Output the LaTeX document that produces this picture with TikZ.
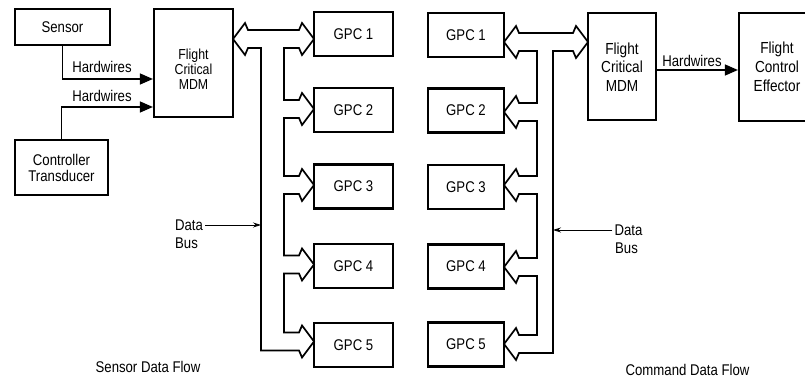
\documentclass[tikz,border=0pt]{standalone}
\usepackage{fontspec}
\setmainfont[FakeStretch=0.85]{Liberation Sans}
\usetikzlibrary{arrows.meta}
\newcommand\hdR[2]{-- (#1-15,#2-9) -- (#1-12,#2-16) -- (#1,#2) -- (#1-12,#2+16) -- (#1-15,#2+9)}
\newcommand\hdL[2]{-- (#1+15,#2-9) -- (#1+12,#2-16) -- (#1,#2) -- (#1+12,#2+16) -- (#1+15,#2+9)}
\begin{document}
\begin{tikzpicture}[x=1pt,y=-1pt,
  box/.style={draw,line width=2.2pt,inner sep=0pt,align=center},
  gpcl/.style={box,minimum width=79pt,minimum height=44pt,font=\fontsize{15.5}{16}\selectfont},
  gpcr/.style={box,minimum width=76pt,minimum height=44pt,font=\fontsize{15.5}{16}\selectfont},
  bus/.style={line width=1.7pt,line join=miter},
  hw/.style={line width=1.4pt,-{Triangle[length=13pt,width=11pt]}},
  ptr/.style={line width=0.8pt,-{Stealth[length=8pt,width=5pt]}},
  txt/.style={inner sep=2pt,font=\fontsize{15.5}{16}\selectfont},
  txtsm/.style={inner sep=0pt,align=center,font=\fontsize{14.5}{15}\selectfont},
  txtbig/.style={inner sep=0pt,align=center,font=\fontsize{16}{18.5}\selectfont}]
\fill[white] (0,0) rectangle (805,379);
\clip (0,0) rectangle (805,379);

% left side boxes
\node[box,minimum width=95pt,minimum height=36pt,font=\fontsize{15.5}{16}\selectfont] (sensor) at (62.5,27) {Sensor};
\node[box,minimum width=93pt,minimum height=55pt,font=\fontsize{15.5}{16}\selectfont] (ctrl) at (61.5,167.5) {Controller\\Transducer};
\node[box,minimum width=79pt,minimum height=108pt] (mdmL) at (193.5,63) {};
\node[txtsm] (mdmLt) at (193.5,69) {Flight\\Critical\\MDM};

\node[gpcl] (gL1) at (353.5,34) {GPC 1};
\node[gpcl] (gL2) at (353.5,110) {GPC 2};
\node[gpcl] (gL3) at (353.5,186.5) {GPC 3};
\node[gpcl] (gL4) at (353.5,266) {GPC 4};
\node[gpcl] (gL5) at (353.5,345) {GPC 5};

% right side boxes
\node[gpcr] (gR1) at (466,35) {GPC 1};
\node[gpcr] (gR2) at (466,110.5) {GPC 2};
\node[gpcr] (gR3) at (466,187) {GPC 3};
\node[gpcr] (gR4) at (466,266.5) {GPC 4};
\node[gpcr] (gR5) at (466,344.5) {GPC 5};

\node[box,minimum width=68pt,minimum height=107pt] (mdmR) at (622,66.5) {};
\node[txtbig] (mdmRt) at (622,67) {Flight\\Critical\\MDM};
\node[box,minimum width=76pt,minimum height=108pt] (eff) at (777,67) {};
\node[txtbig,font=\fontsize{16}{19}\selectfont] (efft) at (777,67) {Flight\\Control\\Effector};

% hardwires
\draw[hw] (sensor.south) |- (mdmL.west |- 0,79);
\draw[hw] (ctrl.north) |- (mdmL.west |- 0,107);
\draw[hw] (mdmR.east |- 0,70) -- (eff.west |- 0,70);
\node[txt] (hwL1) at (102,67) {Hardwires};
\node[txt] (hwL2) at (102,96) {Hardwires};
\node[txt] (hwR) at (692,61) {Hardwires};

% left data bus
\draw[bus] (233,39) -- (245,23) -- (248,30) \hdR{314}{39} -- (284,48) -- (284,100)
  \hdR{314}{109} -- (284,118) -- (284,176)
  \hdR{314}{185} -- (284,194) -- (284,255.5)
  \hdR{314}{264.5} -- (284,273.5) -- (284,332.5)
  \hdR{314}{341.5} -- (261,350.5) -- (261,48) -- (248,48) -- (245,55) -- cycle;

% right data bus
\draw[bus] (588,42) -- (576,26) -- (573,33) \hdL{504}{42} -- (537,51) -- (537,103)
  \hdL{504}{112} -- (537,121) -- (537,176)
  \hdL{504}{185} -- (537,194) -- (537,258)
  \hdL{504}{267} -- (537,276) -- (537,335)
  \hdL{504}{344} -- (553,353) -- (553,51) -- (573,51) -- (576,58) -- cycle;

% data bus pointers
\node[txt] (dataL) at (189,225) {Data};
\node[txt,anchor=west] (busL) at (173,243) {Bus};
\coordinate (pL) at (261,225);
\draw[ptr] (dataL.east) -- (pL);
\node[txt] (dataR) at (628.5,230) {Data};
\node[txt,anchor=west] (busR) at (613,248) {Bus};
\coordinate (pR) at (553,230);
\draw[ptr] (dataR.west) -- (pR);

% captions
\node[txt] (flowL) at (148,367) {Sensor Data Flow};
\node[txt] (flowR) at (687.5,370) {Command Data Flow};
\end{tikzpicture}
\end{document}
